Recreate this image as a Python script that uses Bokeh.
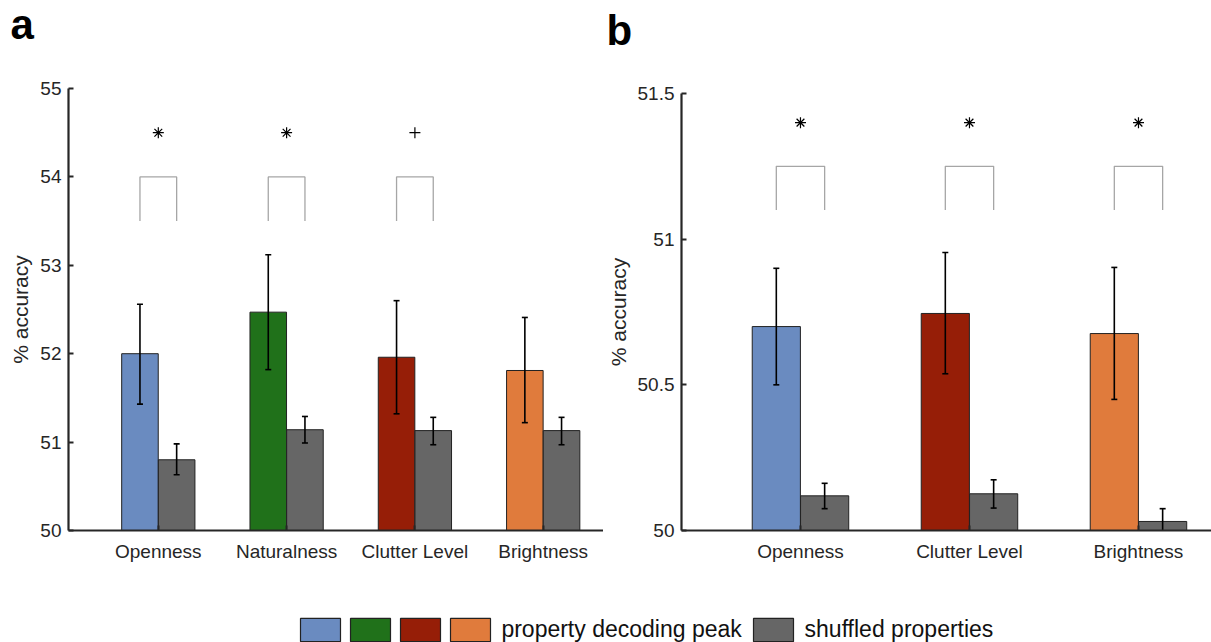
from bokeh.plotting import figure
from bokeh.layouts import row, column
from bokeh.models import (FixedTicker, NumeralTickFormatter, Label, Legend, LegendItem,
                          Range1d, Spacer)
from bokeh.embed import file_html
from bokeh.resources import INLINE

# ---------------- data ----------------
categories_a = ["Openness", "Naturalness", "Clutter Level", "Brightness"]
colors_a = ["#6a8bc0", "#20711a", "#961e07", "#e07b3c"]
peak_a = [52.00, 52.47, 51.96, 51.81]
peak_a_lo = [51.43, 51.82, 51.32, 51.22]
peak_a_hi = [52.56, 53.12, 52.60, 52.41]
shuf_a = [50.80, 51.14, 51.13, 51.13]
shuf_a_lo = [50.63, 50.99, 50.97, 50.97]
shuf_a_hi = [50.98, 51.29, 51.28, 51.28]
sig_a = ["*", "*", "+", ""]
bracket_a = [53.5, 54.0]
sig_y_a = 54.5
yticks_a = [50, 51, 52, 53, 54, 55]

categories_b = ["Openness", "Clutter Level", "Brightness"]
colors_b = ["#6a8bc0", "#961e07", "#e07b3c"]
peak_b = [50.70, 50.745, 50.676]
peak_b_lo = [50.50, 50.538, 50.45]
peak_b_hi = [50.90, 50.954, 50.903]
shuf_b = [50.119, 50.126, 50.031]
shuf_b_lo = [50.075, 50.077, 49.987]
shuf_b_hi = [50.162, 50.174, 50.075]
sig_b = ["*", "*", "*"]
bracket_b = [51.10, 51.25]
sig_y_b = 51.40
yticks_b = [50, 50.5, 51, 51.5]

gray = "#666666"
legend_labels = ["property decoding peak", "shuffled properties"]
panel_tags = ["a", "b"]

AX = "#262626"
FONT = "Liberation Sans"
OFF = 0.143
BW = 0.285
MARK = {"*": "asterisk", "+": "cross"}
HEAD_H = 56
ROW_H = 514
NAN = float("nan")


def bare(w, h):
    f = figure(frame_width=w, frame_height=h, x_range=Range1d(0, 1), y_range=Range1d(0, 1),
               min_border=0, output_backend="svg", toolbar_location=None, tools="",
               x_axis_location=None, y_axis_location=None)
    f.outline_line_color = None
    f.xgrid.visible = False
    f.ygrid.visible = False
    return f


def panel(cats, colors, peak, plo, phi, shuf, slo, shi, sig, bracket, sig_y,
          yticks, yr, xr, fw, fh, left, top, height, fmt=None):
    p = figure(frame_width=fw, frame_height=fh, x_range=Range1d(*xr), y_range=Range1d(*yr),
               min_border_left=left, min_border_right=0, min_border_top=top,
               min_border_bottom=height - top - fh, output_backend="svg",
               toolbar_location=None, tools="")
    p.outline_line_color = None
    p.xgrid.visible = False
    p.ygrid.visible = False
    n = len(cats)
    xs = list(range(1, n + 1))
    xp = [x - OFF for x in xs]
    xsh = [x + OFF for x in xs]
    y0 = yr[0]
    p.vbar(x=xp, top=peak, bottom=y0, width=BW, fill_color=colors,
           line_color="#222222", line_width=1)
    p.vbar(x=xsh, top=shuf, bottom=y0, width=BW, fill_color=gray,
           line_color="#222222", line_width=1)
    for xx, lo, hi in ((xp, plo, phi), (xsh, slo, shi)):
        p.segment(x0=xx, y0=lo, x1=xx, y1=hi, line_color="black", line_width=1.6)
        p.scatter(x=xx, y=hi, marker="dash", size=6, line_color="black", line_width=1.6)
        p.scatter(x=xx, y=lo, marker="dash", size=6, line_color="black", line_width=1.6)
    # brackets
    bxs, bys = [], []
    for i, s in enumerate(sig):
        if s:
            bxs.append([xp[i], xp[i], xsh[i], xsh[i]])
            bys.append([bracket[0], bracket[1], bracket[1], bracket[0]])
    p.multi_line(xs=bxs, ys=bys, line_color="#a6a6a6", line_width=1.3)
    for s in ("*", "+"):
        sx = [xs[i] for i in range(n) if sig[i] == s]
        if sx:
            p.scatter(x=sx, y=[sig_y] * len(sx), marker=MARK[s], size=11,
                      line_color="black", line_width=1.2)
    # axes
    xa = p.xaxis[0]
    xa.ticker = FixedTicker(ticks=xs)
    xa.major_label_overrides = {x: c for x, c in zip(xs, cats)}
    ya = p.yaxis[0]
    ya.ticker = FixedTicker(ticks=yticks)
    if fmt:
        ya.formatter = NumeralTickFormatter(format=fmt)
    ya.axis_label = "% accuracy"
    for a in (xa, ya):
        a.axis_line_color = AX
        a.axis_line_width = 2.2
        a.major_tick_line_color = AX
        a.major_tick_line_width = 2
        a.major_tick_in = 5
        a.major_tick_out = 0
        a.minor_tick_line_color = None
        a.major_label_text_font = FONT
        a.major_label_text_font_size = "19px"
        a.major_label_text_color = AX
        a.axis_label_text_font = FONT
        a.axis_label_text_font_size = "21px"
        a.axis_label_text_font_style = "normal"
        a.axis_label_text_color = AX
    xa.major_label_standoff = 10
    ya.major_label_standoff = 7
    ya.axis_label_standoff = 5
    return p


# ---------------- header with panel letters ----------------
head = bare(1211, HEAD_H)
for tag, tx, ty in zip(panel_tags, (10, 606), (32.5, 26.5)):
    head.add_layout(Label(x=tx, y=ty, x_units="screen", y_units="screen", text=tag,
                          text_font="Liberation Sans", text_font_style="bold",
                          text_font_size="42px", text_color="black",
                          text_baseline="alphabetic"))

top_a = 88 - HEAD_H
top_b = 93 - HEAD_H - 5
pa = panel(categories_a, colors_a, peak_a, peak_a_lo, peak_a_hi, shuf_a, shuf_a_lo,
           shuf_a_hi, sig_a, bracket_a, sig_y_a, yticks_a, (50, 55),
           (0.3, 4.47), 535, 442, 68, top_a, ROW_H)
pb = panel(categories_b, colors_b, peak_b, peak_b_lo, peak_b_hi, shuf_b, shuf_b_lo,
           shuf_b_hi, sig_b, bracket_b, sig_y_b, yticks_b, (50, 51.5),
           (0.296, 0.296 + 530 / 169.0), 530, 437, 75, top_b, ROW_H - 5,
           fmt="0.[0]")

# ---------------- legend ----------------
LEG_H = 642 - HEAD_H - ROW_H
pl = bare(1200, LEG_H)
items = []
all_cols = colors_a
for i, c in enumerate(all_cols):
    r = pl.vbar(x=[NAN], top=[NAN], width=0.1, fill_color=c, line_color="#222222",
                line_width=1.2)
    lab = (" " + legend_labels[0] + " ") if i == len(all_cols) - 1 else ""
    items.append(LegendItem(label=lab, renderers=[r]))
rg = pl.vbar(x=[NAN], top=[NAN], width=0.1, fill_color=gray, line_color="#222222",
             line_width=1.2)
items.append(LegendItem(label=" " + legend_labels[1], renderers=[rg]))
leg = Legend(items=items, orientation="horizontal", location=(295, -2),
             glyph_width=50, glyph_height=29, label_width=0, label_height=24,
             label_standoff=0, spacing=0, padding=0, margin=0,
             border_line_color=None, background_fill_alpha=0,
             label_text_font=FONT, label_text_font_size="23px", label_text_color="#111111")
pl.add_layout(leg)

layout = column(head, row(pa, column(Spacer(height=5), pb)), pl)
open("out.html", "w").write(file_html(layout, INLINE))
